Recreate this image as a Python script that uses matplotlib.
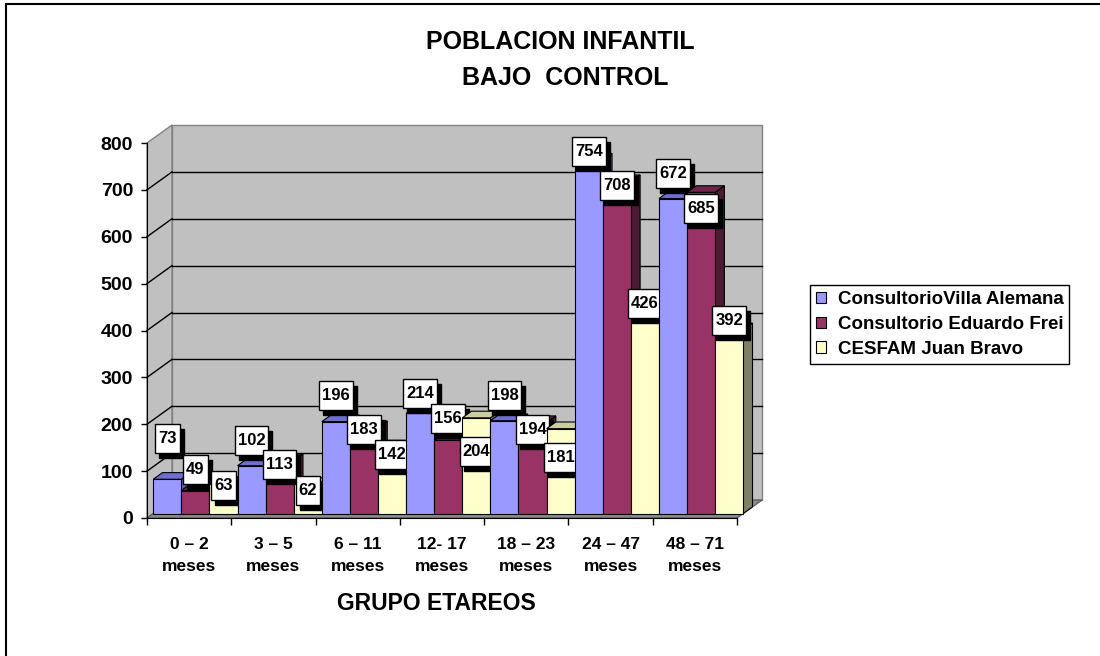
import matplotlib
matplotlib.use("Agg")
import matplotlib.pyplot as plt
from matplotlib.patches import Polygon, Rectangle, Patch
from matplotlib.path import Path

plt.rcParams['font.family'] = ['Liberation Sans', 'DejaVu Sans']
plt.rcParams['font.weight'] = 'bold'

# datos
grupos = ["0 – 2\nmeses", "3 – 5\nmeses", "6 – 11\nmeses", "12- 17\nmeses",
          "18 – 23\nmeses", "24 – 47\nmeses", "48 – 71\nmeses"]
series = ["ConsultorioVilla Alemana", "Consultorio Eduardo Frei", "CESFAM Juan Bravo"]
villa_alemana = [73, 102, 196, 214, 198, 754, 672]
eduardo_frei = [49, 113, 183, 156, 194, 708, 685]
juan_bravo = [63, 62, 142, 204, 181, 426, 392]
valores = [villa_alemana, eduardo_frei, juan_bravo]
y_ticks = [0, 100, 200, 300, 400, 500, 600, 700, 800]

# desplazamiento vertical de las etiquetas (pixeles, como en el original)
etiqueta_dy = [[41, 25, 26, 20, 25, 9, 25],
               [21, -4, -2, 22, -7, -4, -16],
               [-2, -6, -8, -34, -29, 10, 9]]

colores = [("#9999FF", "#6F6FD0", "#5C5CB0"),
           ("#993366", "#6E2449", "#4D1A33"),
           ("#FFFFCC", "#CCCCA3", "#808066")]


class Caja:
    """caja rectangular con relleno horizontal y vertical distinto"""
    def __init__(self, padx, pady):
        self.padx, self.pady = padx, pady

    def __call__(self, x0, y0, width, height, mutation_size):
        px, py = self.padx * mutation_size, self.pady * mutation_size
        a, b = x0 - px, y0 - py
        c, d = x0 + width + px, y0 + height + py
        return Path([(a, b), (c, b), (c, d), (a, d), (a, b)], closed=True)


W, H = 1100, 656
fig = plt.figure(figsize=(11, 6.56), dpi=100)
ax = fig.add_axes([147 / W, (H - 518) / H, 590 / W, 375 / H])
ax.set_xlim(0, 7)
ax.set_ylim(0, 800)
ax.patch.set_alpha(0)

kx = 590 / 7
ky = 375 / 800
DX, DY = 25 / kx, 18 / ky          # profundidad del cubo
d1, d2 = 0.25, 0.62                # profundidad de las barras
ymax = 800

# paredes
ax.add_patch(Polygon([(DX, DY), (7 + DX, DY), (7 + DX, ymax + DY), (DX, ymax + DY)],
                     closed=True, fc="#C0C0C0", ec="#808080", lw=1, zorder=1, clip_on=False))
ax.add_patch(Polygon([(0, 0), (DX, DY), (DX, ymax + DY), (0, ymax)],
                     closed=True, fc="#C0C0C0", ec="#808080", lw=1, zorder=1, clip_on=False))
ax.add_patch(Polygon([(0, 0), (7, 0), (7 + DX, DY), (DX, DY)],
                     closed=True, fc="#8C8C8C", ec="#606060", lw=1, zorder=2, clip_on=False))
for t in y_ticks[1:-1]:
    ax.plot([DX, 7 + DX], [t + DY, t + DY], color="black", lw=1, zorder=1.5, clip_on=False)
    ax.plot([0, DX], [t, t + DY], color="black", lw=1, zorder=1.5, clip_on=False)

# barras
w = 1 / 3
z = 3
for g in range(7):
    for s in range(3):
        v = valores[s][g]
        front, top, side = colores[s]
        x0 = g + s * w + d1 * DX
        y0 = d1 * DY
        ddx, ddy = (d2 - d1) * DX, (d2 - d1) * DY
        ax.add_patch(Polygon([(x0 + w, y0), (x0 + w + ddx, y0 + ddy),
                              (x0 + w + ddx, y0 + v + ddy), (x0 + w, y0 + v)],
                             closed=True, fc=side, ec="black", lw=0.8, zorder=z, clip_on=False))
        ax.add_patch(Polygon([(x0, y0 + v), (x0 + w, y0 + v),
                              (x0 + w + ddx, y0 + v + ddy), (x0 + ddx, y0 + v + ddy)],
                             closed=True, fc=top, ec="black", lw=0.8, zorder=z, clip_on=False))
        ax.bar(x0, v, width=w, bottom=y0, align="edge", color=front,
               edgecolor="black", lw=0.8, zorder=z + 0.1, clip_on=False)
        cx = x0 + w / 2
        dy = etiqueta_dy[s][g]
        ax.annotate(str(v), xy=(cx, y0 + v), xytext=(4, dy - 5), textcoords="offset pixels",
                    ha="center", va="center", fontsize=12, fontweight="bold", color="black",
                    bbox=dict(boxstyle=Caja(0.18, 0.42), fc="black", ec="black", lw=1),
                    zorder=z + 0.2, annotation_clip=False)
        ax.annotate(str(v), xy=(cx, y0 + v), xytext=(0, dy), textcoords="offset pixels",
                    ha="center", va="center", fontsize=12, fontweight="bold", color="black",
                    bbox=dict(boxstyle=Caja(0.18, 0.42), fc="white", ec="black", lw=1),
                    zorder=z + 0.3, annotation_clip=False)
        z += 1

# ejes
for sp in ["top", "right"]:
    ax.spines[sp].set_visible(False)
ax.spines["left"].set_zorder(z)
ax.spines["bottom"].set_zorder(z)
ax.set_yticks(y_ticks)
ax.set_yticklabels([str(t) for t in y_ticks], fontsize=14, fontweight="bold")
ax.tick_params(axis="y", direction="out", length=4.5, width=1, pad=5.5)
ax.set_xticks(range(8))
ax.set_xticklabels([])
ax.tick_params(axis="x", which="major", direction="out", length=5, width=1)
ax.set_xticks([g + 0.5 for g in range(7)], minor=True)
ax.set_xticklabels(grupos, minor=True, fontsize=12.5, fontweight="bold", linespacing=1.55)
ax.tick_params(axis="x", which="minor", length=0, pad=14)

fig.text(560 / W, 1 - 49 / H, "POBLACION INFANTIL", ha="center", va="baseline",
         fontsize=18, fontweight="bold")
fig.text(565 / W, 1 - 85 / H, "BAJO  CONTROL", ha="center", va="baseline",
         fontsize=18, fontweight="bold")
fig.text(436 / W, 1 - 610 / H, "GRUPO ETAREOS", ha="center", va="baseline",
         fontsize=16.5, fontweight="bold")

handles = [Patch(facecolor=c[0], edgecolor="black", lw=0.8) for c in colores]
leg = fig.legend(handles, series, loc="upper left", bbox_to_anchor=(810 / W, 1 - 285 / H),
                 frameon=True, fancybox=False, edgecolor="black", framealpha=1,
                 prop=dict(size=13.5, weight="bold"), handlelength=0.55, handleheight=0.55,
                 handletextpad=0.6, labelspacing=0.42, borderpad=0.32, borderaxespad=0)
leg.get_frame().set_linewidth(1)

fig.patches.append(Rectangle((6 / W, -0.05), 1.2, 1.05 - 4 / H, transform=fig.transFigure,
                             fill=False, ec="black", lw=1.5))

fig.savefig("out.png", dpi=100)
